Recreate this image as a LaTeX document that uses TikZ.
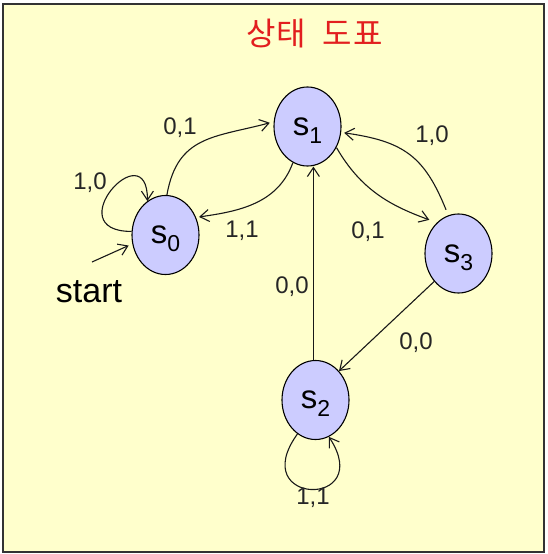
\documentclass[tikz,border=0pt]{standalone}
\usepackage{fontspec}
\setmainfont{Liberation Sans}
\newfontfamily\kor{Noto Sans CJK KR}
\usetikzlibrary{shapes.geometric,arrows.meta}
\definecolor{bgyel}{RGB}{255,255,204}
\definecolor{nodefill}{RGB}{204,204,255}
\definecolor{titlered}{RGB}{226,30,30}
\newcommand{\stname}[1]{\raisebox{-8.5pt}[0pt][0pt]{\fontsize{33}{33}\selectfont s\raisebox{-8pt}{\fontsize{23}{23}\selectfont #1}}}
\begin{document}
\begin{tikzpicture}[x=1pt,y=1pt,
  state/.style={ellipse,draw=black,line width=1.1pt,fill=nodefill,minimum width=67pt,minimum height=79pt,inner sep=0pt},
  arr/.style={-{Straight Barb[length=9pt,width=12pt]},line width=1.1pt,black!90},
  lbl/.style={font=\fontsize{24}{24}\selectfont,inner sep=0pt,text=black!85}]
\useasboundingbox (0,0) rectangle (547,-554);
\fill[white] (0,0) rectangle (547,-554);
\draw[fill=bgyel,draw=black!80,line width=2pt] (3,-3.5) rectangle (544,-552);
% title
\node[font=\kor\fontsize{32}{32}\selectfont,text=titlered,inner sep=0pt] (title) at (314.5,-34) {상\hspace{1pt}태\hspace{17pt}도\hspace{1pt}표};
% states
\node[state] (s0) at (165.5,-235) {\stname{0}};
\node[state] (s1) at (307.5,-126.5) {\stname{1}};
\node[state] (s2) at (315.5,-400) {\stname{2}};
\node[state] (s3) at (458.5,-253.5) {\stname{3}};
% start
\coordinate (st) at (92,-262);
\node[font=\fontsize{34}{34}\selectfont,anchor=base,inner sep=0pt] (startlbl) at (89,-302) {start};
\draw[arr,shorten >=4pt] (st) -- (s0.195);
% edges
\draw[arr,shorten >=4pt] (s0.88) to[out=80,in=195,looseness=1.2] (s1.172);
\draw[arr,shorten >=3pt] (s1.248) to[out=250,in=8] (s0.30);
\draw[arr] (s0.174) .. controls +(-75,0) and +(0,70) .. (s0.118);
\draw[arr,shorten >=8pt] (s1.-36) to[out=-60,in=160] (s3.125);
\draw[arr,shorten <=6pt,shorten >=3pt] (s3.105) to[out=112,in=-8,looseness=1.2] (s1.-10);
\draw[arr] (s2.93) -- (s2.93 |- s1.south);
\draw[arr] (s3.229) -- (s2.51);
\draw[arr] (s2.-118) .. controls +(-52,-72) and +(47,-72) .. (s2.-70);
% labels
\node[lbl] (l01a) at (180,-128) {0,1};
\node[lbl] (l11a) at (242,-231) {1,1};
\node[lbl] (l10a) at (90,-183) {1,0};
\node[lbl] (l01b) at (368,-232) {0,1};
\node[lbl] (l10b) at (432,-136) {1,0};
\node[lbl] (l00a) at (292,-287) {0,0};
\node[lbl] (l00b) at (416,-343) {0,0};
\node[lbl] (l11b) at (313,-498) {1,1};
\end{tikzpicture}
\end{document}
